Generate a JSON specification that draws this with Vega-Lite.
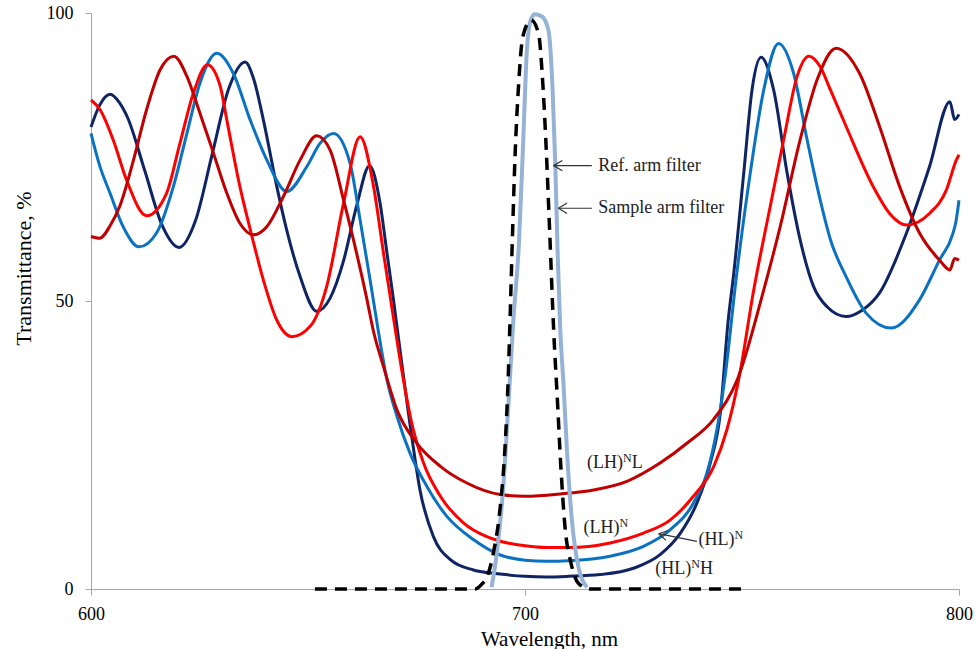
{
  "$schema": "https://vega.github.io/schema/vega-lite/v6.json",
  "width": 868,
  "height": 576,
  "autosize": {"type": "none"},
  "padding": {"left": 91, "top": 13, "right": 17, "bottom": 60},
  "background": "white",
  "config": {"view": {"stroke": null}, "font": "Liberation Serif, Times New Roman, serif"},
  "datasets": {
    "bands": [
      {"s":"HLNH","w":600,"t":80.2},{"s":"HLNH","w":602,"t":84},{"s":"HLNH","w":604.4,"t":85.9},{"s":"HLNH","w":606.5,"t":84.5},{"s":"HLNH","w":608.4,"t":81.9},{"s":"HLNH","w":612.4,"t":72.6},{"s":"HLNH","w":616.3,"t":63.3},{"s":"HLNH","w":620.3,"t":59.3},{"s":"HLNH","w":624.1,"t":64.0},{"s":"HLNH","w":627.9,"t":75.4},{"s":"HLNH","w":631.7,"t":86.8},{"s":"HLNH","w":635.5,"t":91.5},{"s":"HLNH","w":637.5,"t":88.5},{"s":"HLNH","w":639.7,"t":81.5},{"s":"HLNH","w":642.8,"t":69.9},{"s":"HLNH","w":645.1,"t":62.3},{"s":"HLNH","w":648.2,"t":54.2},{"s":"HLNH","w":652,"t":48.2},{"s":"HLNH","w":655.1,"t":50.5},{"s":"HLNH","w":658.2,"t":57},{"s":"HLNH","w":661.2,"t":66.5},{"s":"HLNH","w":664.2,"t":73.5},{"s":"HLNH","w":666.6,"t":67.0},{"s":"HLNH","w":668.2,"t":58.3},{"s":"HLNH","w":669.7,"t":50.2},{"s":"HLNH","w":670.7,"t":44.4},{"s":"HLNH","w":673.9,"t":26.5},{"s":"HLNH","w":675.8,"t":17.2},{"s":"HLNH","w":678.9,"t":9.1},{"s":"HLNH","w":682.8,"t":5.1},{"s":"HLNH","w":688.1,"t":3.3},{"s":"HLNH","w":694.3,"t":2.6},{"s":"HLNH","w":700,"t":2.2},{"s":"HLNH","w":705,"t":2.1},{"s":"HLNH","w":710,"t":2.2},{"s":"HLNH","w":717.3,"t":2.5},{"s":"HLNH","w":725,"t":3.6},{"s":"HLNH","w":731.2,"t":6.0},{"s":"HLNH","w":735.8,"t":9.7},{"s":"HLNH","w":739.6,"t":14.9},{"s":"HLNH","w":742.7,"t":21.9},{"s":"HLNH","w":745,"t":30.5},{"s":"HLNH","w":746.8,"t":46.5},{"s":"HLNH","w":748.1,"t":54.8},{"s":"HLNH","w":750.4,"t":72.2},{"s":"HLNH","w":752.3,"t":86.6},{"s":"HLNH","w":754.4,"t":92.3},{"s":"HLNH","w":757.3,"t":86.6},{"s":"HLNH","w":760.4,"t":72.2},{"s":"HLNH","w":763.4,"t":60.6},{"s":"HLNH","w":766.5,"t":52.5},{"s":"HLNH","w":769.6,"t":49.0},{"s":"HLNH","w":774,"t":47.3},{"s":"HLNH","w":777.5,"t":48.3},{"s":"HLNH","w":781.7,"t":51.4},{"s":"HLNH","w":787.9,"t":61.8},{"s":"HLNH","w":793.2,"t":73.3},{"s":"HLNH","w":797.9,"t":84.6},{"s":"HLNH","w":799,"t":81.5},{"s":"HLNH","w":800,"t":82.4},

      {"s":"HLN","w":600,"t":79.1},{"s":"HLN","w":602,"t":73.5},{"s":"HLN","w":604.4,"t":68.7},{"s":"HLN","w":607.4,"t":62.9},{"s":"HLN","w":611.1,"t":59.4},{"s":"HLN","w":615.1,"t":61.8},{"s":"HLN","w":619,"t":69.9},{"s":"HLN","w":622.1,"t":79.1},{"s":"HLN","w":625.1,"t":87.8},{"s":"HLN","w":629,"t":93.0},{"s":"HLN","w":632.8,"t":89.5},{"s":"HLN","w":636.7,"t":81.4},{"s":"HLN","w":640.5,"t":74.5},{"s":"HLN","w":645.1,"t":69.0},{"s":"HLN","w":649.7,"t":73.3},{"s":"HLN","w":652.8,"t":77.4},{"s":"HLN","w":655.9,"t":79.1},{"s":"HLN","w":659.7,"t":73.9},{"s":"HLN","w":662,"t":64.1},{"s":"HLN","w":664.3,"t":53.7},{"s":"HLN","w":666.2,"t":44.8},{"s":"HLN","w":668.2,"t":36.3},{"s":"HLN","w":670.5,"t":30.0},{"s":"HLN","w":673.5,"t":23.6},{"s":"HLN","w":677.4,"t":17.8},{"s":"HLN","w":682,"t":12.6},{"s":"HLN","w":688.1,"t":8.6},{"s":"HLN","w":694.3,"t":5.9},{"s":"HLN","w":700,"t":5.0},{"s":"HLN","w":705,"t":4.8},{"s":"HLN","w":710,"t":4.9},{"s":"HLN","w":719.6,"t":5.7},{"s":"HLN","w":727.3,"t":7.4},{"s":"HLN","w":733.5,"t":10.3},{"s":"HLN","w":738.8,"t":14.9},{"s":"HLN","w":741.9,"t":20.1},{"s":"HLN","w":744.2,"t":27.6},{"s":"HLN","w":746,"t":36.3},{"s":"HLN","w":748.8,"t":54.8},{"s":"HLN","w":751.9,"t":72.2},{"s":"HLN","w":755,"t":86.6},{"s":"HLN","w":758.4,"t":94.7},{"s":"HLN","w":761.9,"t":89.5},{"s":"HLN","w":765,"t":78.0},{"s":"HLN","w":768,"t":67.6},{"s":"HLN","w":770.4,"t":60.6},{"s":"HLN","w":774,"t":54.2},{"s":"HLN","w":778.6,"t":47.9},{"s":"HLN","w":784.4,"t":45.3},{"s":"HLN","w":790.9,"t":50.2},{"s":"HLN","w":795.5,"t":57.1},{"s":"HLN","w":798.5,"t":61.5},{"s":"HLN","w":799.3,"t":63.8},{"s":"HLN","w":800,"t":67.5},

      {"s":"LHN","w":600,"t":84.9},{"s":"LHN","w":602.1,"t":83.2},{"s":"LHN","w":605.1,"t":78.0},{"s":"LHN","w":608.2,"t":71.0},{"s":"LHN","w":612.8,"t":64.8},{"s":"LHN","w":617.4,"t":68.7},{"s":"LHN","w":620.5,"t":77.4},{"s":"LHN","w":623.6,"t":86.1},{"s":"LHN","w":626.8,"t":91.0},{"s":"LHN","w":629.7,"t":87.5},{"s":"LHN","w":631.3,"t":81.4},{"s":"LHN","w":634.3,"t":69.9},{"s":"LHN","w":636.7,"t":62.4},{"s":"LHN","w":639.7,"t":53.7},{"s":"LHN","w":642.8,"t":46.7},{"s":"LHN","w":646.3,"t":43.8},{"s":"LHN","w":650.5,"t":45.6},{"s":"LHN","w":654.3,"t":52.5},{"s":"LHN","w":658.2,"t":67.0},{"s":"LHN","w":662,"t":78.5},{"s":"LHN","w":665.1,"t":69.9},{"s":"LHN","w":667.4,"t":58.3},{"s":"LHN","w":669.3,"t":49.0},{"s":"LHN","w":672,"t":36.3},{"s":"LHN","w":673.9,"t":28.8},{"s":"LHN","w":676.6,"t":21.9},{"s":"LHN","w":680.5,"t":16.1},{"s":"LHN","w":685.8,"t":11.5},{"s":"LHN","w":691.2,"t":9.1},{"s":"LHN","w":694.3,"t":8.3},{"s":"LHN","w":700,"t":7.5},{"s":"LHN","w":705,"t":7.2},{"s":"LHN","w":710,"t":7.2},{"s":"LHN","w":719.6,"t":8.0},{"s":"LHN","w":727.3,"t":9.7},{"s":"LHN","w":733.5,"t":12.0},{"s":"LHN","w":738.8,"t":16.1},{"s":"LHN","w":743.5,"t":21.3},{"s":"LHN","w":746.5,"t":27.6},{"s":"LHN","w":749.4,"t":37.0},{"s":"LHN","w":752.7,"t":51.9},{"s":"LHN","w":756.5,"t":66.4},{"s":"LHN","w":759.6,"t":78.0},{"s":"LHN","w":762.7,"t":89.0},{"s":"LHN","w":765.4,"t":92.5},{"s":"LHN","w":768,"t":90.7},{"s":"LHN","w":770.4,"t":86.6},{"s":"LHN","w":774,"t":80.3},{"s":"LHN","w":780.2,"t":69.9},{"s":"LHN","w":784,"t":65.2},{"s":"LHN","w":787.9,"t":63.2},{"s":"LHN","w":793.2,"t":65.2},{"s":"LHN","w":797.1,"t":69.3},{"s":"LHN","w":799.4,"t":74.5},{"s":"LHN","w":800,"t":75.4},

      {"s":"LHNL","w":600,"t":61.2},{"s":"LHNL","w":602,"t":60.9},{"s":"LHNL","w":604.5,"t":63.2},{"s":"LHNL","w":606.7,"t":66.6},{"s":"LHNL","w":609.8,"t":74.5},{"s":"LHNL","w":612.8,"t":83.2},{"s":"LHNL","w":615.9,"t":90.1},{"s":"LHNL","w":619.1,"t":92.5},{"s":"LHNL","w":622.1,"t":89.0},{"s":"LHNL","w":625.1,"t":82.6},{"s":"LHNL","w":628.2,"t":75.7},{"s":"LHNL","w":631.3,"t":68.7},{"s":"LHNL","w":634.3,"t":63.5},{"s":"LHNL","w":637.4,"t":61.5},{"s":"LHNL","w":640.5,"t":62.9},{"s":"LHNL","w":644.3,"t":68.1},{"s":"LHNL","w":648.2,"t":74.5},{"s":"LHNL","w":652,"t":78.7},{"s":"LHNL","w":655.1,"t":76.2},{"s":"LHNL","w":658.2,"t":67.5},{"s":"LHNL","w":661.2,"t":58.3},{"s":"LHNL","w":663.6,"t":50.2},{"s":"LHNL","w":665.1,"t":44.7},{"s":"LHNL","w":667.4,"t":38.6},{"s":"LHNL","w":670.5,"t":31.1},{"s":"LHNL","w":675.1,"t":25.3},{"s":"LHNL","w":680.5,"t":21.3},{"s":"LHNL","w":686.6,"t":18.4},{"s":"LHNL","w":694.3,"t":16.4},{"s":"LHNL","w":700,"t":16.1},{"s":"LHNL","w":708.1,"t":16.5},{"s":"LHNL","w":715.8,"t":17.2},{"s":"LHNL","w":723.5,"t":18.7},{"s":"LHNL","w":731.2,"t":21.9},{"s":"LHNL","w":737.3,"t":25.3},{"s":"LHNL","w":743.5,"t":29.5},{"s":"LHNL","w":749,"t":36.5},{"s":"LHNL","w":755,"t":51.9},{"s":"LHNL","w":758.8,"t":62.9},{"s":"LHNL","w":763.4,"t":78.0},{"s":"LHNL","w":767.3,"t":88.4},{"s":"LHNL","w":771.7,"t":93.9},{"s":"LHNL","w":777.1,"t":89.5},{"s":"LHNL","w":781.7,"t":80.3},{"s":"LHNL","w":786.3,"t":69.9},{"s":"LHNL","w":790.9,"t":61.8},{"s":"LHNL","w":795.5,"t":57.1},{"s":"LHNL","w":797.9,"t":55.4},{"s":"LHNL","w":799,"t":57.4},{"s":"LHNL","w":800,"t":57.1}
    ],
    "sample": [
      {"w":692.3,"t":0.3},{"w":693.5,"t":6.2},{"w":695.0,"t":17.8},{"w":696.2,"t":32.3},{"w":697.3,"t":46.5},{"w":698.6,"t":60},{"w":699.6,"t":78},{"w":700.4,"t":93.0},{"w":701.2,"t":98.5},{"w":702.2,"t":99.8},{"w":703.9,"t":99.4},{"w":705.4,"t":97.0},{"w":706.3,"t":87.8},{"w":707.0,"t":73.3},{"w":707.5,"t":58.9},{"w":708.1,"t":45.5},{"w":708.9,"t":35.2},{"w":709.7,"t":23.6},{"w":710.8,"t":12.0},{"w":712.3,"t":3.9},{"w":714.3,"t":0.3}
    ],
    "ref": [
      {"w":651.6,"t":0},{"w":688.5,"t":0},{"w":690,"t":0.8},{"w":691.3,"t":2.2},{"w":692.7,"t":6.2},{"w":694.3,"t":14.3},{"w":695.4,"t":24.7},{"w":696.1,"t":36},{"w":696.6,"t":48},{"w":697.1,"t":61},{"w":697.7,"t":75},{"w":698.5,"t":87.2},{"w":699.5,"t":95.9},{"w":701.4,"t":98.8},{"w":703.1,"t":96.5},{"w":704.1,"t":87.8},{"w":704.9,"t":76.2},{"w":705.7,"t":61.8},{"w":706.6,"t":45.0},{"w":707.5,"t":32.3},{"w":708.3,"t":20.7},{"w":709.2,"t":10.9},{"w":710.6,"t":4.5},{"w":712.3,"t":1.0},{"w":715,"t":0},{"w":750.5,"t":0}
    ],
    "arrows": [
      {"w":715.4,"t":73.5,"w2":706.6,"t2":73.5},{"w":706.6,"t":73.5,"w2":708.6,"t2":74.4},{"w":706.6,"t":73.5,"w2":708.6,"t2":72.6},
      {"w":715.4,"t":66.1,"w2":707.7,"t2":66.1},{"w":707.7,"t":66.1,"w2":709.7,"t2":67.0},{"w":707.7,"t":66.1,"w2":709.7,"t2":65.2},
      {"w":739.6,"t":8.26,"w2":730.8,"t2":9.6},{"w":730.8,"t":9.6,"w2":732.5,"t2":8.45},{"w":730.8,"t":9.6,"w2":733.0,"t2":10.15}
    ],
    "labels": [
      {"text":"Ref. arm filter","w":716.9,"t":72.5},
      {"text":"Sample arm filter","w":716.9,"t":65.2},
      {"text":"(LH)","w":714.3,"t":21.0},{"text":"L","w":724.6,"t":21.0},
      {"text":"(LH)","w":713.5,"t":9.8},
      {"text":"(HL)","w":740.0,"t":7.6},
      {"text":"(HL)","w":730.0,"t":2.65},{"text":"H","w":740.3,"t":2.65}
    ],
    "sups": [
      {"text":"N","w":722.6,"t":22.0},
      {"text":"N","w":721.8,"t":10.8},
      {"text":"N","w":748.3,"t":8.6},
      {"text":"N","w":738.3,"t":3.7}
    ]
  },
  "encoding": {
    "x": {"field":"w","type":"quantitative","scale":{"domain":[600,800],"nice":false,"zero":false},
      "axis":{"title":"Wavelength, nm","values":[600,700,800],"grid":false,"domainColor":"#A6A6A6","tickColor":"#A6A6A6","tickSize":6,"labelFlush":false,"labelFont":"Liberation Serif, Times New Roman, serif","labelFontSize":18,"labelColor":"#000","labelPadding":10,"titleFont":"Liberation Serif, Times New Roman, serif","titleFontSize":21,"titleFontWeight":"normal","titleColor":"#000","titleX":458,"titleY":56,"titleBaseline":"alphabetic","titleAlign":"center"}},
    "y": {"field":"t","type":"quantitative","scale":{"domain":[0,100],"nice":false},
      "axis":{"title":"Transmittance, %","values":[0,50,100],"grid":false,"domainColor":"#A6A6A6","tickColor":"#A6A6A6","tickSize":6,"labelFlush":false,"labelFont":"Liberation Serif, Times New Roman, serif","labelFontSize":18,"labelColor":"#000","labelPadding":12,"titleFont":"Liberation Serif, Times New Roman, serif","titleFontSize":22,"titleFontWeight":"normal","titleColor":"#000","titleX":-61,"titleY":255,"titleAngle":-90,"titleBaseline":"alphabetic","titleAlign":"center"}}
  },
  "layer": [
    {
      "data": {"name":"bands"},
      "mark": {"type":"line","interpolate":"monotone","strokeWidth":3},
      "encoding": {"color":{"field":"s","type":"nominal","scale":{"domain":["HLNH","HLN","LHN","LHNL"],"range":["#0E2463","#0A72C0","#FF0000","#C00000"]},"legend":null}}
    },
    {
      "data": {"name":"sample"},
      "mark": {"type":"line","interpolate":"monotone","strokeWidth":4,"color":"#95B3D7"},
      "encoding": {}
    },
    {
      "data": {"name":"ref"},
      "mark": {"type":"line","interpolate":"monotone","strokeWidth":3.5,"color":"#000000","strokeDash":[12,8]},
      "encoding": {}
    },
    {
      "data": {"name":"arrows"},
      "mark": {"type":"rule","color":"#333333","strokeWidth":1.2},
      "encoding": {"x2":{"field":"w2"},"y2":{"field":"t2"}}
    },
    {
      "data": {"name":"labels"},
      "mark": {"type":"text","align":"left","baseline":"alphabetic","fontSize":18,"font":"Liberation Serif, Times New Roman, serif","color":"#222222"},
      "encoding": {"text":{"field":"text"}}
    },
    {
      "data": {"name":"sups"},
      "mark": {"type":"text","align":"left","baseline":"alphabetic","fontSize":12,"font":"Liberation Serif, Times New Roman, serif","color":"#222222"},
      "encoding": {"text":{"field":"text"}}
    }
  ]
}
